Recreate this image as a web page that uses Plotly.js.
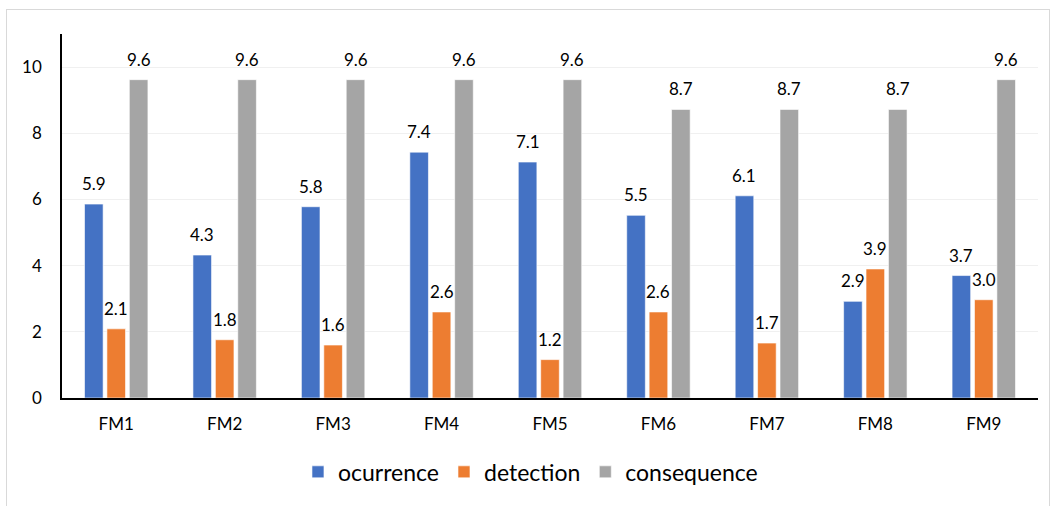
<!DOCTYPE html>
<html><head><meta charset="utf-8">
<script src="https://cdn.plot.ly/plotly-3.0.1.min.js"></script>
<style>html,body{margin:0;padding:0;background:#fff}#frame{position:absolute;left:6px;top:9px;width:1042px;height:520px;border:1px solid #d9d9d9;pointer-events:none}</style>
</head><body>
<div id="chart" style="width:1055px;height:506px"></div>
<div id="frame"></div>
<script>
const categories = ['FM1','FM2','FM3','FM4','FM5','FM6','FM7','FM8','FM9'];
const ocurrence = [5.86, 4.32, 5.78, 7.43, 7.13, 5.52, 6.11, 2.92, 3.70];
const detection = [2.09, 1.76, 1.60, 2.60, 1.16, 2.60, 1.66, 3.90, 2.97];
const consequence = [9.62, 9.62, 9.62, 9.62, 9.62, 8.72, 8.72, 8.72, 9.62];
const seriesNames = ['ocurrence','detection','consequence'];
const colors = ['#4472C4','#ED7D31','#A5A5A5'];
const font = 'Lato, "Open Sans", sans-serif';
const series = [ocurrence, detection, consequence];

const W = 1055, H = 506, M = {l:62, r:17, t:34, b:108};
const bargap = 0.38, bargroupgap = 0.17;
const catWidth = (W - M.l - M.r) / categories.length;
const slot = catWidth * (1 - bargap) / series.length;

const traces = series.map((v,i)=>({
  type:'bar', x:categories, y:v, name:seriesNames[i],
  marker:{color:colors[i], line:{color:'rgba(255,255,255,0.6)', width:1}},
  hoverinfo:'x+y'
}));
const annotations = [];
series.forEach((v,i)=>{
  v.forEach((val,j)=>{
    annotations.push({
      x:categories[j], y:val, xref:'x', yref:'y',
      xshift:(i - (series.length-1)/2) * slot,
      yshift:8, yanchor:'bottom', xanchor:'center',
      text:val.toFixed(1), showarrow:false,
      font:{family:font, size:17, color:'#000'}
    });
  });
});
Plotly.newPlot('chart', traces, {
  width:W, height:H,
  margin:M,
  paper_bgcolor:'#fff', plot_bgcolor:'#fff',
  barmode:'group', bargap:bargap, bargroupgap:bargroupgap,
  font:{family:font, color:'#000'},
  annotations:annotations,
  xaxis:{showline:true, linecolor:'#000', linewidth:1.5, ticks:'', tickfont:{size:17}, ticklabelstandoff:10},
  yaxis:{range:[0,11], tickvals:[0,2,4,6,8,10], showline:true, linecolor:'#000', linewidth:1.5, showgrid:true, gridcolor:'#f0f0f0', zeroline:false, tickfont:{size:17}, ticklabelstandoff:15},
  showlegend:true,
  legend:{orientation:'h', x:0.48, xanchor:'center', y:-0.203, yanchor:'middle', font:{size:23}, itemwidth:30, tracegroupgap:0}
}, {displayModeBar:false});
</script>
</body></html>
